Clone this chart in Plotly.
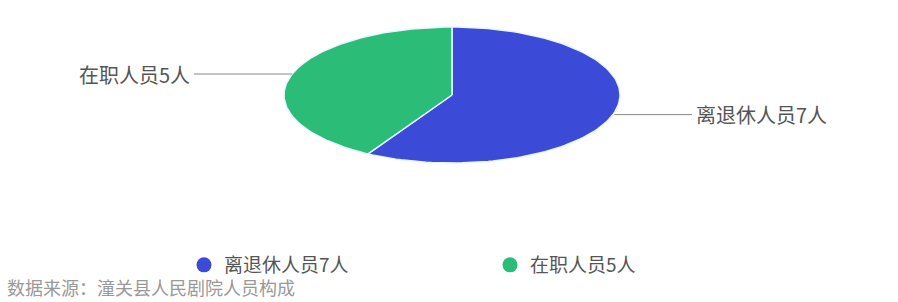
import numpy as np
import plotly.graph_objects as go

labels = ["离退休人员7人", "在职人员5人"]
values = [7, 5]
colors = ["#3b4bd8", "#2bbd78"]
source_text = "数据来源：潼关县人民剧院人员构成"

# ellipse geometry (pixel-like data coords)
cx, cy, rx, ry = 452, 95, 168, 68
W, H = 898, 302

fig = go.Figure()
total = sum(values)
start = 0.0
mids = []
for lab, v, c in zip(labels, values, colors):
    a0 = start
    a1 = start + v / total * 2 * np.pi
    t = np.linspace(a0, a1, 120)
    xs = np.concatenate([[cx], cx + rx * np.sin(t), [cx]])
    ys = np.concatenate([[cy], cy - ry * np.cos(t), [cy]])
    fig.add_trace(go.Scatter(x=xs, y=ys, fill="toself", fillcolor=c, mode="lines",
                             line=dict(color="#e8f6ff", width=1.5), hoverinfo="text",
                             text=lab, showlegend=False, legendgroup=lab))
    mids.append((a0 + a1) / 2)
    start = a1

# leader lines + labels
label_font = dict(family="Noto Sans CJK SC", size=20, color="#555555")
# blue (right)
m = mids[0]
px, py = cx + rx * np.sin(m), cy - ry * np.cos(m)
fig.add_trace(go.Scatter(x=[px, 692], y=[py + 2, py + 2], mode="lines",
                         line=dict(color="#888888", width=1), hoverinfo="skip", showlegend=False))
fig.add_annotation(x=694, y=py + 2, text=labels[0], showarrow=False, xanchor="left",
                   yanchor="middle", font=label_font)
# green (left)
ly = 74
ex = cx - rx * np.sqrt(1 - ((ly - cy) / ry) ** 2)
fig.add_trace(go.Scatter(x=[ex, 194], y=[ly, ly], mode="lines",
                         line=dict(color="#888888", width=1), hoverinfo="skip", showlegend=False))
fig.add_annotation(x=192, y=ly, text=labels[1], showarrow=False, xanchor="right",
                   yanchor="middle", font=label_font)

# legend entries
for lab, c in zip(labels, colors):
    fig.add_trace(go.Scatter(x=[None], y=[None], mode="markers", name=lab,
                             marker=dict(color=c, size=15, symbol="circle"), legendgroup=lab))

fig.add_annotation(x=5, y=287, text=source_text, showarrow=False, xanchor="left",
                   yanchor="middle", font=dict(family="Noto Sans CJK SC", size=18, color="#999999"))

fig.update_layout(
    width=W, height=H, margin=dict(l=0, r=0, t=0, b=0),
    paper_bgcolor="white", plot_bgcolor="white",
    xaxis=dict(range=[0, W], visible=False, fixedrange=True),
    yaxis=dict(range=[H, 0], visible=False, fixedrange=True),
    legend=dict(orientation="h", x=(214 - 30) / W, xanchor="left", y=1 - 265 / H, yanchor="middle",
                font=dict(family="Noto Sans CJK SC", size=19, color="#555555"),
                entrywidth=261, entrywidthmode="pixels"),
)

fig.write_html("out.html", config={"displayModeBar": False},
               post_script="document.body.style.margin='0';")
